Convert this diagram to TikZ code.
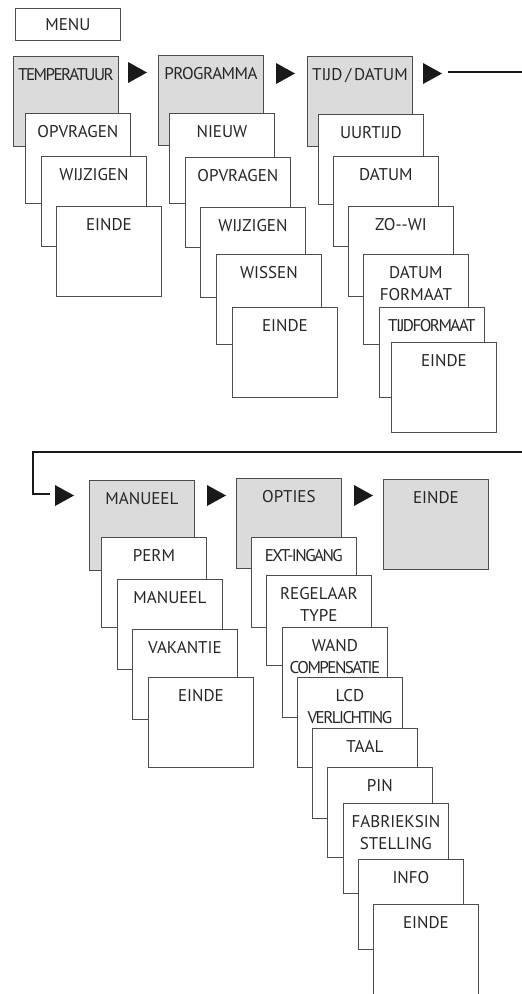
\documentclass[tikz,border=0pt]{standalone}
\usepackage{fontspec}
\setmainfont{PT Sans}
\usetikzlibrary{calc}
\def\playtri(#1,#2){\fill[tri] (#1,#2) -- ++(19,10.5) -- ++(-19,10.5) -- cycle;}
\newcommand\tight[2][-9]{{\addfontfeatures{LetterSpace=#1}#2}}

\begin{document}
\begin{tikzpicture}[x=1pt, y=-1pt,
		box/.style={draw=black!70, line width=0.8pt, fill=white, anchor=north west, inner sep=0pt, text width=105pt, text height=24pt, text depth=66pt, align=center, text=black!85, font=\fontsize{17}{22}\selectfont},
		head/.style={box, fill=black!14},
		menubox/.style={draw=black!70, line width=0.8pt, anchor=north west, inner sep=0pt, minimum width=105pt, minimum height=32pt, text=black!85, font=\fontsize{17}{22}\selectfont},
		tri/.style={fill=black!90},
		flow/.style={line width=1.6pt, draw=black!90}]
		%%%%% START %%%%%
		\useasboundingbox (0,0) rectangle (522,994);
		
		\node[menubox] (menu) at (15,8) {MENU};
		
		% temperatuur
		\node[head] (temp) at (13,56) {\tight{TEMPERATUUR}};
		\node[box] (tempopv) at (25,113) {OPVRAGEN};
		\node[box] (tempwijz) at (41,156) {WIJZIGEN};
		\node[box] (tempeinde) at (56,206) {EINDE};
		\playtri(128,62)
		
		% programma
		\node[head] (prog) at (158,55) {\tight[-3]{PROGRAMMA}};
		\node[box] (prognieuw) at (169,113) {NIEUW};
		\node[box] (progopv) at (185,157) {OPVRAGEN};
		\node[box] (progwijz) at (200,207) {WIJZIGEN};
		\node[box] (progwis) at (216,254) {WISSEN};
		\node[box] (progeinde) at (232,307) {EINDE};
		\playtri(276,63)
		
		% tijd / datum
		\node[head] (tijd) at (307,56) {TIJD\,/\,DATUM};
		\node[box] (tijduur) at (318,114) {UURTIJD};
		\node[box] (tijddat) at (333,156) {DATUM};
		\node[box] (tijdzowi) at (348,206) {ZO-{}-WI};
		\node[box] (tijdfmt) at (363,254) {DATUM\\FORMAAT};
		\node[box] (tijdtfmt) at (379,307) {\tight{TIJDFORMAAT}};
		\node[box] (tijdeinde) at (391,342) {EINDE};
		\playtri(423,63)
		
		\coordinate (topstart) at (448,72);
		\coordinate (topend) at (522,72);
		\coordinate (botstart) at (522,452);
		\coordinate (botend) at (50,494);
		\draw[flow] (topstart) -- (topend);
		\draw[flow] (botstart) -- (33,452) |- (botend);
		
		% manueel
		\playtri(55,485)
		\node[head] (man) at (89,480) {MANUEEL};
		\node[box] (manperm) at (101,537) {PERM};
		\node[box] (manman) at (117,579) {MANUEEL};
		\node[box] (manvak) at (132,629) {VAKANTIE};
		\node[box] (maneinde) at (148,677) {EINDE};
		\playtri(207,485)
		
		% opties
		\node[head] (opt) at (236,478) {OPTIES};
		\node[box] (optext) at (251,537) {\tight{EXT-INGANG}};
		\node[box] (optreg) at (266,575) {REGELAAR\\TYPE};
		\node[box] (optwand) at (282,627) {WAND\\\tight{COMPENSATIE}};
		\node[box] (optlcd) at (297,677) {LCD\\\tight{VERLICHTING}};
		\node[box] (opttaal) at (312,728) {TAAL};
		\node[box] (optpin) at (327,767) {PIN};
		\node[box] (optfab) at (343,803) {FABRIEKSIN\\STELLING};
		\node[box] (optinfo) at (358,859) {INFO};
		\node[box] (opteinde) at (373,904) {EINDE};
		\playtri(354,485)
		
		\node[head] (einde) at (383,479) {EINDE};
		%%%%% END %%%%%
	\end{tikzpicture}
\end{document}
